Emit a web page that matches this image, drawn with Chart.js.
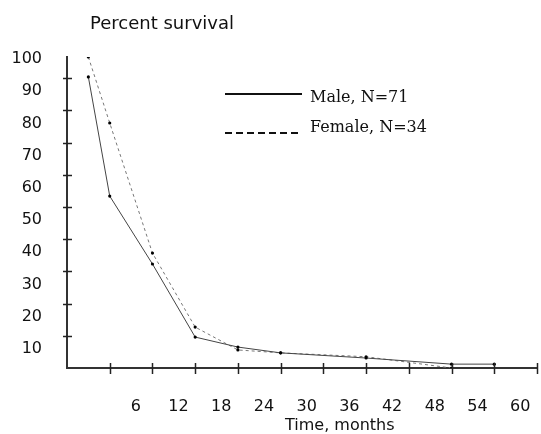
<!DOCTYPE html>
<html>
<head>
<meta charset="utf-8">
<script src="https://cdn.jsdelivr.net/npm/chart.js@4/dist/chart.umd.min.js"></script>
<style>
  body { margin: 0; background: #fff; }
  canvas { display: block; }
</style>
</head>
<body>
<canvas id="survivalChart" width="541" height="434"></canvas>
<script>
// months on the x axis, survival in percent
const maleMonths = [3, 6, 12, 18, 24, 30, 42, 54, 60];
const maleSurvival = [90.4, 53.4, 32.3, 9.6, 6.5, 4.7, 3.1, 1.2, 1.2];
const femaleMonths = [3, 6, 12, 18, 24, 30, 42, 54];
const femaleSurvival = [96.6, 76.1, 35.7, 12.7, 5.6, 4.7, 3.5, 0];

const xTicks = [0, 6, 12, 18, 24, 30, 36, 42, 48, 54, 60, 66];
const yTicks = [0, 10, 20, 30, 40, 50, 60, 70, 80, 90, 100];

const seriesLabels = ["Male, N=71", "Female, N=34"];

function toPoints(xs, ys) {
    return xs.map((x, i) => ({ x: x, y: ys[i] }));
}

// draws titles, legend and the little crossing tick marks
const decorPlugin = {
    id: "decor",
    afterDraw(chart) {
        const ctx = chart.ctx;
        const xs = chart.scales.x;
        const ys = chart.scales.y;
        ctx.save();

        // crossing ticks
        ctx.strokeStyle = "#222";
        ctx.lineWidth = 1.5;
        yTicks.forEach(v => {
            if (v === 0 || v === 100) return;
            const py = Math.round(ys.getPixelForValue(v)) + 0.5;
            ctx.beginPath();
            ctx.moveTo(xs.left - 4, py);
            ctx.lineTo(xs.left + 5, py);
            ctx.stroke();
        });
        xTicks.forEach(v => {
            if (v === 0) return;
            const px = Math.round(xs.getPixelForValue(v)) + 0.5;
            ctx.beginPath();
            ctx.moveTo(px, ys.bottom - 5);
            ctx.lineTo(px, ys.bottom + 6);
            ctx.stroke();
        });

        // titles
        ctx.fillStyle = "#111";
        ctx.font = "18px 'DejaVu Sans'";
        ctx.textBaseline = "middle";
        ctx.textAlign = "left";
        ctx.fillText("Percent survival", 90, 24);
        ctx.font = "16px 'DejaVu Sans'";
        ctx.fillText("Time, months", 285, 426);

        // legend
        ctx.lineWidth = 2;
        ctx.strokeStyle = "#111";
        ctx.beginPath();
        ctx.moveTo(225, 94);
        ctx.lineTo(302, 94);
        ctx.stroke();
        ctx.setLineDash([7, 4]);
        ctx.beginPath();
        ctx.moveTo(225, 133);
        ctx.lineTo(302, 133);
        ctx.stroke();
        ctx.setLineDash([]);
        ctx.font = "16px 'DejaVu Serif'";
        ctx.fillText(seriesLabels[0], 310, 98);
        ctx.fillText(seriesLabels[1], 310, 128);
        ctx.restore();
    }
};

const ctx = document.getElementById("survivalChart").getContext("2d");

new Chart(ctx, {
    type: "line",
    data: {
        datasets: [
            {
                label: seriesLabels[0],
                data: toPoints(maleMonths, maleSurvival),
                borderColor: "#444",
                borderWidth: 1,
                pointRadius: 1.6,
                pointBackgroundColor: "#000",
                pointBorderWidth: 0,
                fill: false,
                tension: 0
            },
            {
                label: seriesLabels[1],
                data: toPoints(femaleMonths, femaleSurvival),
                borderColor: "#777",
                borderWidth: 1,
                borderDash: [3, 3],
                pointRadius: 1.6,
                pointBackgroundColor: "#000",
                pointBorderWidth: 0,
                fill: false,
                tension: 0
            }
        ]
    },
    options: {
        responsive: false,
        animation: false,
        layout: {
            padding: { top: 57, left: 0, right: 1, bottom: 0 }
        },
        plugins: {
            legend: { display: false },
            title: { display: false },
            tooltip: { enabled: false }
        },
        scales: {
            x: {
                type: "linear",
                min: 0,
                max: 66,
                afterBuildTicks: scale => { scale.ticks = xTicks.map(v => ({ value: v })); },
                afterFit: scale => {
                    scale.height = 66;
                    scale.paddingLeft = 0;
                    scale.paddingRight = 0;
                },
                grid: { display: true, drawOnChartArea: false, drawTicks: false, color: "transparent" },
                border: { display: true, color: "#333", width: 2 },
                ticks: {
                    autoSkip: false,
                    maxRotation: 0,
                    padding: 29,
                    labelOffset: 26,
                    color: "#111",
                    font: { family: "DejaVu Sans", size: 16 },
                    callback: v => (v === 0 || v === 66) ? "" : String(v)
                }
            },
            y: {
                type: "linear",
                min: 0,
                max: 96.6,
                afterBuildTicks: scale => { scale.ticks = yTicks.map(v => ({ value: v })); },
                afterFit: scale => {
                    scale.width = 67;
                    scale.paddingTop = 0;
                    scale.paddingBottom = 0;
                },
                grid: { display: true, drawOnChartArea: false, drawTicks: false, color: "transparent" },
                border: { display: true, color: "#333", width: 2 },
                ticks: {
                    autoSkip: false,
                    padding: 25,
                    labelOffset: 13,
                    color: "#111",
                    font: { family: "DejaVu Sans", size: 16 },
                    callback: v => v === 0 ? "" : String(v)
                }
            }
        }
    },
    plugins: [decorPlugin]
});
</script>
</body>
</html>
